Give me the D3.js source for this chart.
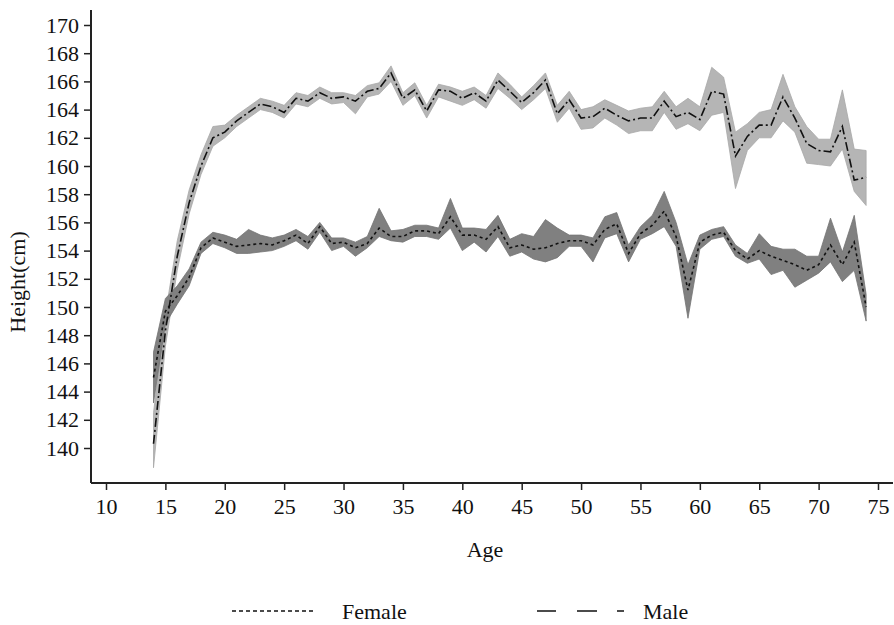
<!DOCTYPE html>
<html>
<head>
<meta charset="utf-8">
<script src="https://cdn.jsdelivr.net/npm/d3@7"></script>
<style>
  body { margin: 0; background: #fff; }
</style>
</head>
<body>
<div id="chart"></div>
<script>
// ages 14..74
var ages = d3.range(14, 75);

var maleMean = [140.3, 148.3, 153.6, 157.4, 160.0, 162.0, 162.4, 163.2, 163.8, 164.4,
  164.2, 163.8, 164.8, 164.6, 165.2, 164.8, 164.9, 164.6, 165.3, 165.5,
  166.6, 164.8, 165.4, 163.9, 165.4, 165.3, 164.8, 165.2, 164.6, 166.1,
  165.3, 164.5, 165.2, 166.1, 163.7, 164.7, 163.4, 163.5, 164.1, 163.6,
  163.2, 163.4, 163.4, 164.6, 163.5, 163.8, 163.3, 165.3, 165.1, 160.7,
  162.1, 162.9, 162.9, 164.9, 163.4, 161.6, 161.1, 161.0, 162.8, 159.0, 159.2];
var maleLow = [138.6, 147.2, 152.6, 156.6, 159.4, 161.4, 162.0, 162.8, 163.4, 164.0,
  163.8, 163.4, 164.4, 164.2, 164.8, 164.4, 164.5, 163.7, 164.9, 165.1,
  166.0, 164.3, 165.0, 163.4, 164.9, 164.6, 164.3, 164.7, 164.1, 165.5,
  164.8, 164.0, 164.7, 165.5, 163.1, 164.1, 162.6, 162.7, 163.4, 162.9,
  162.3, 162.5, 162.5, 163.8, 162.6, 163.0, 162.5, 163.6, 163.8, 158.4,
  161.1, 162.0, 162.0, 163.2, 162.4, 160.2, 160.1, 160.0, 161.2, 158.2, 157.2];
var maleHigh = [142.5, 149.5, 154.7, 158.3, 160.8, 162.8, 162.9, 163.6, 164.2, 164.8,
  164.6, 164.3, 165.2, 165.0, 165.6, 165.2, 165.2, 165.0, 165.7, 165.9,
  167.1, 165.2, 165.9, 164.3, 165.8, 165.6, 165.3, 165.6, 165.0, 166.6,
  165.8, 164.9, 165.7, 166.6, 164.3, 165.3, 164.0, 164.2, 164.7, 164.3,
  163.9, 164.1, 164.2, 165.3, 164.2, 164.8, 164.2, 167.0, 166.3, 162.4,
  163.0, 163.8, 164.0, 166.5, 164.2, 162.8, 161.9, 161.9, 165.4, 161.2, 161.1];

var femaleMean = [145.0, 149.7, 150.8, 152.1, 154.2, 154.9, 154.6, 154.3, 154.4, 154.5,
  154.4, 154.7, 155.1, 154.5, 155.7, 154.5, 154.6, 154.2, 154.5, 155.6,
  155.0, 155.0, 155.4, 155.4, 155.2, 156.4, 155.1, 155.1, 154.8, 155.7,
  154.2, 154.4, 154.1, 154.2, 154.5, 154.7, 154.7, 154.4, 155.5, 155.9,
  153.8, 155.2, 155.8, 156.8, 155.0, 151.2, 154.6, 155.1, 155.3, 154.0,
  153.4, 154.0, 153.6, 153.3, 153.0, 152.6, 153.0, 154.4, 153.0, 154.6, 150.0];
var femaleLow = [143.2, 148.8, 150.2, 151.5, 153.8, 154.5, 154.2, 153.8, 153.8, 153.9,
  154.0, 154.3, 154.7, 154.1, 155.3, 154.0, 154.3, 153.6, 154.2, 155.0,
  154.7, 154.6, 155.0, 155.0, 154.8, 155.6, 154.0, 154.6, 153.9, 155.0,
  153.6, 153.9, 153.4, 153.2, 153.5, 154.3, 154.3, 153.2, 154.9, 155.2,
  153.2, 154.8, 155.2, 155.7, 154.3, 149.2, 154.1, 154.8, 155.0, 153.6,
  153.1, 153.4, 152.3, 152.6, 151.4, 151.9, 152.4, 153.2, 151.8, 152.6, 149.0];
var femaleHigh = [146.8, 150.6, 151.5, 152.7, 154.6, 155.3, 155.1, 154.8, 155.5, 155.1,
  154.9, 155.1, 155.5, 155.0, 156.0, 154.9, 154.9, 154.6, 155.0, 157.0,
  155.4, 155.5, 155.8, 155.8, 155.6, 157.7, 155.6, 155.6, 155.5, 156.5,
  154.8, 155.2, 155.0, 156.2, 155.6, 155.1, 155.1, 154.9, 156.4, 156.7,
  154.4, 155.7, 156.5, 158.2, 156.0, 153.0, 155.1, 155.5, 155.7, 154.4,
  153.8, 155.2, 154.3, 154.1, 154.1, 153.6, 153.6, 156.3, 153.9, 156.5, 150.9];

var xTicks = d3.range(10, 80, 5);
var yTicks = d3.range(140, 172, 2);

var width = 894, height = 625;
var serif = '"Liberation Serif", "Times New Roman", Times, serif';

var svg = d3.select('#chart').append('svg')
    .attr('width', width)
    .attr('height', height)
    .style('font-family', serif);

var x = d3.scaleLinear().domain([10, 75]).range([106, 878]);
var y = d3.scaleLinear().domain([140, 170]).range([448, 25]);

var axisLeftX = 91, axisBottomY = 483;

function rows(mean, lo, hi) {
    return ages.map(function(a, i) {
        return { age: a, mean: mean[i], lo: lo[i], hi: hi[i] };
    });
}
var male = rows(maleMean, maleLow, maleHigh);
var female = rows(femaleMean, femaleLow, femaleHigh);

var area = d3.area()
    .x(function(d) { return x(d.age); })
    .y0(function(d) { return y(d.lo); })
    .y1(function(d) { return y(d.hi); });

var line = d3.line()
    .x(function(d) { return x(d.age); })
    .y(function(d) { return y(d.mean); });

// bands
svg.append('path').datum(male)
    .attr('d', area)
    .style('fill', '#b5b5b5')
    .style('stroke', '#a8a8a8')
    .style('stroke-width', 0.8);

svg.append('path').datum(female)
    .attr('d', area)
    .style('fill', '#808080')
    .style('stroke', '#737373')
    .style('stroke-width', 0.8);

// mean lines
svg.append('path').datum(male)
    .attr('d', line)
    .style('fill', 'none')
    .style('stroke', '#111')
    .style('stroke-width', 1.6)
    .style('stroke-dasharray', '9,3,2,3');

svg.append('path').datum(female)
    .attr('d', line)
    .style('fill', 'none')
    .style('stroke', '#111')
    .style('stroke-width', 1.6)
    .style('stroke-dasharray', '3,3');

// axes
var gx = svg.append('g')
    .attr('transform', 'translate(0,' + axisBottomY + ')')
    .call(d3.axisBottom(x).tickValues(xTicks).tickSize(7).tickPadding(8).tickSizeOuter(0));
gx.attr('font-family', null).attr('font-size', null);
gx.select('.domain').remove();
gx.selectAll('text').style('font-size', '22px').style('font-family', serif).style('fill', '#111');
gx.selectAll('line').style('stroke', '#222').style('stroke-width', 1.5);

var gy = svg.append('g')
    .attr('transform', 'translate(' + axisLeftX + ',0)')
    .call(d3.axisLeft(y).tickValues(yTicks).tickSize(7).tickPadding(5).tickSizeOuter(0));
gy.attr('font-family', null).attr('font-size', null);
gy.select('.domain').remove();
gy.selectAll('text').style('font-size', '22px').style('font-family', serif).style('fill', '#111');
gy.selectAll('line').style('stroke', '#222').style('stroke-width', 1.5);

svg.append('line')
    .attr('x1', axisLeftX).attr('x2', 893)
    .attr('y1', axisBottomY).attr('y2', axisBottomY)
    .style('stroke', '#222').style('stroke-width', 2);
svg.append('line')
    .attr('x1', axisLeftX).attr('x2', axisLeftX)
    .attr('y1', 10).attr('y2', axisBottomY)
    .style('stroke', '#222').style('stroke-width', 2);

// axis titles
svg.append('text')
    .attr('x', 485)
    .attr('y', 557)
    .attr('text-anchor', 'middle')
    .style('font-size', '22px')
    .style('fill', '#111')
    .text('Age');

svg.append('text')
    .attr('text-anchor', 'middle')
    .attr('transform', 'translate(25,282)rotate(-90)')
    .style('font-size', '22px')
    .style('fill', '#111')
    .text('Height(cm)');

// legend
var legend = svg.append('g');
legend.append('line')
    .attr('x1', 232).attr('x2', 316).attr('y1', 611).attr('y2', 611)
    .style('stroke', '#111').style('stroke-width', 1.6)
    .style('stroke-dasharray', '4,3');
legend.append('text')
    .attr('x', 342).attr('y', 619)
    .style('font-size', '22px')
    .style('fill', '#111')
    .text('Female');

legend.append('line')
    .attr('x1', 537).attr('x2', 624).attr('y1', 611).attr('y2', 611)
    .style('stroke', '#111').style('stroke-width', 1.6)
    .style('stroke-dasharray', '19,21,20,20,7,100');
legend.append('text')
    .attr('x', 643).attr('y', 619)
    .style('font-size', '22px')
    .style('fill', '#111')
    .text('Male');
</script>
</body>
</html>
